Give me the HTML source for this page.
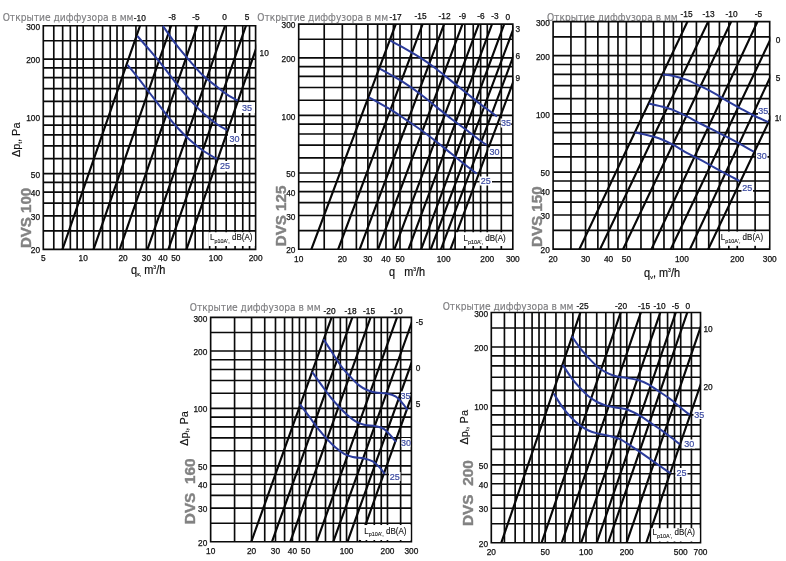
<!DOCTYPE html>
<html><head><meta charset="utf-8"><title>DVS</title>
<style>
html,body{margin:0;padding:0;background:#fff}
svg{display:block;will-change:transform;opacity:0.999}
.ttl{font-family:"DejaVu Sans Condensed","DejaVu Sans","Liberation Sans",sans-serif;font-size:10.8px;fill:#7e7e80;stroke:#7e7e80;stroke-width:0.15px}
.ax{font-family:"Liberation Sans",sans-serif;font-size:8.3px;fill:#111;stroke:#111;stroke-width:0.25px}
.bl{font-family:"Liberation Sans",sans-serif;font-size:9px;fill:#3a49a0;stroke:#3a49a0;stroke-width:0.2px;text-anchor:middle}
.lp{font-family:"Liberation Sans",sans-serif;font-size:8.3px;fill:#111;stroke:#111;stroke-width:0.12px}
.xl{font-family:"Liberation Sans",sans-serif;font-size:12px;fill:#111;stroke:#111;stroke-width:0.2px}
.dvs{font-family:"Liberation Sans",sans-serif;font-weight:bold;font-size:15.3px;fill:#828282;stroke:#828282;stroke-width:0.4px}
.yl{font-family:"Liberation Sans",sans-serif;font-size:11.2px;fill:#111;stroke:#111;stroke-width:0.15px}
</style></head><body>
<svg width="786" height="561" viewBox="0 0 786 561">
<rect width="786" height="561" fill="#fff"/>
<g>
<text class="ttl" textLength="130.8" lengthAdjust="spacingAndGlyphs" x="2.7" y="20.9">Открытие диффузора в мм</text>
<path d="M43.3 24.88 V250.12M53.79 24.88 V250.12M62.66 24.88 V250.12M70.35 24.88 V250.12M77.13 24.88 V250.12M83.19 24.88 V250.12M93.68 24.88 V250.12M102.56 24.88 V250.12M110.24 24.88 V250.12M117.02 24.88 V250.12M123.08 24.88 V250.12M135.93 24.88 V250.12M146.42 24.88 V250.12M155.29 24.88 V250.12M162.97 24.88 V250.12M169.75 24.88 V250.12M175.82 24.88 V250.12M186.31 24.88 V250.12M195.18 24.88 V250.12M202.87 24.88 V250.12M209.64 24.88 V250.12M215.71 24.88 V250.12M226.2 24.88 V250.12M235.07 24.88 V250.12M242.76 24.88 V250.12M249.54 24.88 V250.12M255.6 24.88 V250.12M42.47 249.3 H256.43M42.47 230.88 H256.43M42.47 215.82 H256.43M42.47 203.09 H256.43M42.47 192.07 H256.43M42.47 182.34 H256.43M42.47 173.64 H256.43M42.47 158.59 H256.43M42.47 145.86 H256.43M42.47 134.84 H256.43M42.47 125.11 H256.43M42.47 116.41 H256.43M42.47 101.36 H256.43M42.47 88.63 H256.43M42.47 77.6 H256.43M42.47 67.88 H256.43M42.47 59.18 H256.43M42.47 40.75 H256.43M42.47 25.7 H256.43" stroke="#0a0a0a" stroke-width="1.65" fill="none"/>
<clipPath id="cp0"><rect x="43.3" y="25.7" width="212.9" height="223.6"/></clipPath>
<path clip-path="url(#cp0)" d="M61.46 252.3 L141.08 22.7M92.56 252.3 L172.18 22.7M118.66 252.3 L198.28 22.7M146.46 252.3 L226.08 22.7M167.36 252.3 L246.98 22.7M185.46 252.3 L265.08 22.7" stroke="#080808" stroke-width="2.15" fill="none"/>
<path d="M162.9 25.9 C165.22 29.15 172.25 39.48 176.8 45.4 C181.35 51.32 185.73 56.28 190.2 61.4 C194.67 66.52 199.13 71.87 203.6 76.1 C208.07 80.33 213 83.67 217 86.8 C221 89.93 224.13 92.58 227.6 94.9 C231.07 97.22 236.1 99.73 237.8 100.7" stroke="#2b3b9b" stroke-width="2.0" fill="none"/>
<path d="M137.3 36 C139.43 38.45 145.73 45.57 150.1 50.7 C154.47 55.83 159.05 61.22 163.5 66.8 C167.95 72.38 172.35 78.63 176.8 84.2 C181.25 89.77 185.73 95.3 190.2 100.2 C194.67 105.1 199.13 109.58 203.6 113.6 C208.07 117.62 213.08 121.53 217 124.3 C220.92 127.07 225.42 129.22 227.1 130.2" stroke="#2b3b9b" stroke-width="2.0" fill="none"/>
<path d="M127.4 64.9 C128.95 66.77 132.92 71.33 136.7 76.1 C140.48 80.87 145.63 87.7 150.1 93.5 C154.57 99.3 159.05 105.32 163.5 110.9 C167.95 116.48 172.35 122.1 176.8 127 C181.25 131.9 185.73 136.3 190.2 140.3 C194.67 144.3 199.13 147.88 203.6 151 C208.07 154.12 214.77 157.67 217 159" stroke="#2b3b9b" stroke-width="2.0" fill="none"/>
<rect x="239" y="102.2" width="16" height="10.8" fill="#fff"/>
<text class="bl" x="247" y="110.7">35</text>
<rect x="228" y="133" width="13" height="11" fill="#fff"/>
<text class="bl" x="234.5" y="141.6">30</text>
<rect x="218.5" y="161" width="13" height="10.5" fill="#fff"/>
<text class="bl" x="225" y="169.35">25</text>
<rect x="208.72" y="232.22" width="46.05" height="13.77" fill="#fff"/>
<text class="lp" textLength="42.3" lengthAdjust="spacingAndGlyphs" x="210.1" y="240.2">L<tspan font-size="5.6" dy="2.6">p10A',</tspan><tspan dy="-2.6"> dB(A)</tspan></text>
<text class="ax" text-anchor="end" x="40" y="253.4">20</text>
<text class="ax" text-anchor="end" x="40" y="219.92">30</text>
<text class="ax" text-anchor="end" x="40" y="196.17">40</text>
<text class="ax" text-anchor="end" x="40" y="177.74">50</text>
<text class="ax" text-anchor="end" x="40" y="120.51">100</text>
<text class="ax" text-anchor="end" x="40" y="63.28">200</text>
<text class="ax" text-anchor="end" x="40" y="29.8">300</text>
<text class="ax" text-anchor="middle" x="43.3" y="260.8">5</text>
<text class="ax" text-anchor="middle" x="83.19" y="260.8">10</text>
<text class="ax" text-anchor="middle" x="123.08" y="260.8">20</text>
<text class="ax" text-anchor="middle" x="146.42" y="260.8">30</text>
<text class="ax" text-anchor="middle" x="162.97" y="260.8">40</text>
<text class="ax" text-anchor="middle" x="175.82" y="260.8">50</text>
<text class="ax" text-anchor="middle" x="215.71" y="260.8">100</text>
<text class="ax" text-anchor="middle" x="255.6" y="260.8">200</text>
<text class="ax" text-anchor="middle" x="139.8" y="20.6">-10</text>
<text class="ax" text-anchor="middle" x="172.2" y="20.2">-8</text>
<text class="ax" text-anchor="middle" x="196" y="20.2">-5</text>
<text class="ax" text-anchor="middle" x="224.5" y="20.2">0</text>
<text class="ax" text-anchor="middle" x="247" y="20.2">5</text>
<text class="ax" x="259.6" y="55.5">10</text>
<text class="xl" textLength="34.2" lengthAdjust="spacingAndGlyphs" x="131.1" y="274.3">q<tspan font-size='6' dy='2'>к,</tspan><tspan dy='-2'> m</tspan><tspan font-size='5.5' dy='-5'>3</tspan><tspan dy='5'>/h</tspan></text>
<text class="yl" textLength="34.5" lengthAdjust="spacingAndGlyphs" transform="translate(19.8 157) rotate(-90)">Δp<tspan font-size="6" dy="1.8">t</tspan><tspan dy="-1.8">, Pa</tspan></text>
<text class="dvs" textLength="60.3" lengthAdjust="spacingAndGlyphs" transform="translate(31.4 248.1) rotate(-90)" xml:space="preserve">DVS 100</text>
</g>
<g>
<text class="ttl" textLength="130.8" lengthAdjust="spacingAndGlyphs" x="257.3" y="20.9">Открытие диффузора в мм</text>
<path d="M298.7 23.28 V250.02M324.22 23.28 V250.02M342.33 23.28 V250.02M356.38 23.28 V250.02M367.86 23.28 V250.02M377.56 23.28 V250.02M385.97 23.28 V250.02M393.38 23.28 V250.02M400.01 23.28 V250.02M411.49 23.28 V250.02M421.19 23.28 V250.02M429.6 23.28 V250.02M437.01 23.28 V250.02M443.64 23.28 V250.02M455.12 23.28 V250.02M464.82 23.28 V250.02M473.23 23.28 V250.02M480.64 23.28 V250.02M487.28 23.28 V250.02M501.32 23.28 V250.02M512.8 23.28 V250.02M297.88 249.2 H513.62M297.88 230.65 H513.62M297.88 215.5 H513.62M297.88 202.68 H513.62M297.88 191.58 H513.62M297.88 181.79 H513.62M297.88 173.04 H513.62M297.88 157.88 H513.62M297.88 145.07 H513.62M297.88 133.97 H513.62M297.88 124.18 H513.62M297.88 115.42 H513.62M297.88 100.26 H513.62M297.88 87.45 H513.62M297.88 76.35 H513.62M297.88 66.56 H513.62M297.88 57.8 H513.62M297.88 39.26 H513.62M297.88 24.1 H513.62" stroke="#0a0a0a" stroke-width="1.65" fill="none"/>
<clipPath id="cp1"><rect x="298.7" y="24.1" width="214.7" height="225.1"/></clipPath>
<path clip-path="url(#cp1)" d="M310.27 252.2 L396.94 21.1M337.07 252.2 L423.74 21.1M358.57 252.2 L445.24 21.1M376.98 252.2 L463.64 21.1M393.27 252.2 L479.94 21.1M407.39 252.2 L493.13 21.1M420.09 252.2 L505.3 21.1M429.68 252.2 L516.34 21.1M439.88 252.2 L526.54 21.1M449.38 252.2 L536.04 21.1" stroke="#080808" stroke-width="2.15" fill="none"/>
<path d="M390.3 40.6 C392.83 41.97 400.45 45.92 405.5 48.8 C410.55 51.68 415.55 54.62 420.6 57.9 C425.65 61.18 430.75 64.72 435.8 68.5 C440.85 72.28 445.85 76.57 450.9 80.6 C455.95 84.63 461.05 88.67 466.1 92.7 C471.15 96.73 476.05 100.85 481.2 104.8 C486.35 108.75 494.37 114.47 497 116.4" stroke="#2b3b9b" stroke-width="2.0" fill="none"/>
<path d="M379.7 68.5 C381.47 69.5 386 71.98 390.3 74.5 C394.6 77.02 400.45 80.32 405.5 83.6 C410.55 86.88 415.55 90.4 420.6 94.2 C425.65 98 430.75 102.35 435.8 106.4 C440.85 110.45 445.85 114.62 450.9 118.5 C455.95 122.38 461.05 125.92 466.1 129.7 C471.15 133.48 477.77 138.68 481.2 141.2 C484.63 143.72 485.78 144.2 486.7 144.8" stroke="#2b3b9b" stroke-width="2.0" fill="none"/>
<path d="M369.1 97.3 C372.63 99.32 384.23 105.72 390.3 109.4 C396.37 113.08 400.45 116.02 405.5 119.4 C410.55 122.78 415.55 126.07 420.6 129.7 C425.65 133.33 430.75 137.27 435.8 141.2 C440.85 145.13 445.85 149.25 450.9 153.3 C455.95 157.35 461.8 162.12 466.1 165.5 C470.4 168.88 474.93 172.25 476.7 173.6" stroke="#2b3b9b" stroke-width="2.0" fill="none"/>
<rect x="500.8" y="118.5" width="10.4" height="9" fill="#fff"/>
<text class="bl" x="506" y="126.1">35</text>
<rect x="488.5" y="147.5" width="12" height="9.5" fill="#fff"/>
<text class="bl" x="494.5" y="155.35">30</text>
<rect x="479.5" y="176.5" width="12.5" height="9" fill="#fff"/>
<text class="bl" x="485.75" y="184.1">25</text>
<rect x="456.02" y="232.22" width="55.95" height="13.77" fill="#fff"/>
<text class="lp" textLength="42.3" lengthAdjust="spacingAndGlyphs" x="463.5" y="241.1">L<tspan font-size="5.6" dy="2.6">p10A',</tspan><tspan dy="-2.6"> dB(A)</tspan></text>
<text class="ax" text-anchor="end" x="295.4" y="253.3">20</text>
<text class="ax" text-anchor="end" x="295.4" y="219.6">30</text>
<text class="ax" text-anchor="end" x="295.4" y="195.68">40</text>
<text class="ax" text-anchor="end" x="295.4" y="177.14">50</text>
<text class="ax" text-anchor="end" x="295.4" y="119.52">100</text>
<text class="ax" text-anchor="end" x="295.4" y="61.9">200</text>
<text class="ax" text-anchor="end" x="295.4" y="28.2">300</text>
<text class="ax" text-anchor="middle" x="298.7" y="261.8">10</text>
<text class="ax" text-anchor="middle" x="342.33" y="261.8">20</text>
<text class="ax" text-anchor="middle" x="367.86" y="261.8">30</text>
<text class="ax" text-anchor="middle" x="385.97" y="261.8">40</text>
<text class="ax" text-anchor="middle" x="400.01" y="261.8">50</text>
<text class="ax" text-anchor="middle" x="443.64" y="261.8">100</text>
<text class="ax" text-anchor="middle" x="487.28" y="261.8">200</text>
<text class="ax" text-anchor="middle" x="512.8" y="261.8">300</text>
<text class="ax" text-anchor="middle" x="395.5" y="20.2">-17</text>
<text class="ax" text-anchor="middle" x="420.6" y="18.8">-15</text>
<text class="ax" text-anchor="middle" x="444.5" y="18.8">-12</text>
<text class="ax" text-anchor="middle" x="462.5" y="18.8">-9</text>
<text class="ax" text-anchor="middle" x="481" y="18.8">-6</text>
<text class="ax" text-anchor="middle" x="495" y="18.8">-3</text>
<text class="ax" text-anchor="middle" x="507.7" y="20">0</text>
<text class="ax" x="515.6" y="32">3</text>
<text class="ax" x="515.6" y="58.5">6</text>
<text class="ax" x="515.6" y="80.5">9</text>
<text class="xl" textLength="36.1" lengthAdjust="spacingAndGlyphs" x="389.1" y="276.3">q&#160;&#160;&#160;m<tspan font-size='5.5' dy='-5'>3</tspan><tspan dy='5'>/h</tspan></text>
<text class="dvs" textLength="60.5" lengthAdjust="spacingAndGlyphs" transform="translate(286.2 246.2) rotate(-90)" xml:space="preserve">DVS 125</text>
</g>
<g>
<clipPath id="tc2"><rect x="0" y="6.4" width="786" height="14.5"/></clipPath>
<text clip-path="url(#tc2)" class="ttl" textLength="130.8" lengthAdjust="spacingAndGlyphs" x="546.9" y="21.4">Открытие диффузора в мм</text>
<path d="M553.1 20.78 V249.92M570.95 20.78 V249.92M585.53 20.78 V249.92M597.86 20.78 V249.92M608.54 20.78 V249.92M617.96 20.78 V249.92M626.39 20.78 V249.92M640.97 20.78 V249.92M653.3 20.78 V249.92M663.98 20.78 V249.92M673.4 20.78 V249.92M681.83 20.78 V249.92M696.41 20.78 V249.92M708.74 20.78 V249.92M719.42 20.78 V249.92M728.84 20.78 V249.92M737.27 20.78 V249.92M755.12 20.78 V249.92M769.7 20.78 V249.92M552.27 249.1 H770.53M552.27 230.35 H770.53M552.27 215.04 H770.53M552.27 202.09 H770.53M552.27 190.87 H770.53M552.27 180.97 H770.53M552.27 172.12 H770.53M552.27 156.81 H770.53M552.27 143.86 H770.53M552.27 132.64 H770.53M552.27 122.74 H770.53M552.27 113.89 H770.53M552.27 98.58 H770.53M552.27 85.63 H770.53M552.27 74.41 H770.53M552.27 64.51 H770.53M552.27 55.66 H770.53M552.27 36.92 H770.53M552.27 21.6 H770.53" stroke="#0a0a0a" stroke-width="1.65" fill="none"/>
<clipPath id="cp2"><rect x="553.1" y="21.6" width="217.2" height="227.5"/></clipPath>
<path clip-path="url(#cp2)" d="M577.98 252.1 L688.89 18.6M598.68 252.1 L709.59 18.6M621.68 252.1 L732.59 18.6M650.1 252.1 L758.91 18.6M669.38 252.1 L780.29 18.6M688.6 252.1 L797.55 18.6M706.88 252.1 L817.79 18.6" stroke="#080808" stroke-width="2.15" fill="none"/>
<path d="M662.8 74.6 C664.58 74.82 669.5 75.02 673.5 75.9 C677.5 76.78 682.35 78.2 686.8 79.9 C691.25 81.6 695.73 83.95 700.2 86.1 C704.67 88.25 709.15 90.35 713.6 92.8 C718.05 95.25 722.45 98.22 726.9 100.8 C731.35 103.38 735.83 105.85 740.3 108.3 C744.77 110.75 749.02 113.18 753.7 115.5 C758.38 117.82 765.95 121.08 768.4 122.2" stroke="#2b3b9b" stroke-width="2.0" fill="none"/>
<path d="M648.9 103.5 C650.77 103.93 656 105 660.1 106.1 C664.2 107.2 669.05 108.4 673.5 110.1 C677.95 111.8 682.35 114.07 686.8 116.3 C691.25 118.53 695.73 121.18 700.2 123.5 C704.67 125.82 709.15 127.97 713.6 130.2 C718.05 132.43 722.45 134.58 726.9 136.9 C731.35 139.22 735.83 141.65 740.3 144.1 C744.77 146.55 751.47 150.35 753.7 151.6" stroke="#2b3b9b" stroke-width="2.0" fill="none"/>
<path d="M634.7 132.3 C636.7 132.75 642.47 133.93 646.7 135 C650.93 136.07 655.63 137.05 660.1 138.7 C664.57 140.35 669.05 142.53 673.5 144.9 C677.95 147.27 682.35 150.45 686.8 152.9 C691.25 155.35 695.73 157.23 700.2 159.6 C704.67 161.97 709.15 164.65 713.6 167.1 C718.05 169.55 722.58 171.98 726.9 174.3 C731.22 176.62 737.4 179.88 739.5 181" stroke="#2b3b9b" stroke-width="2.0" fill="none"/>
<rect x="758" y="105.8" width="10.4" height="10.2" fill="#fff"/>
<text class="bl" x="763.2" y="114">35</text>
<rect x="756" y="152" width="11.5" height="8.5" fill="#fff"/>
<text class="bl" x="761.75" y="159.35">30</text>
<rect x="741.5" y="183.5" width="11.5" height="8.5" fill="#fff"/>
<text class="bl" x="747.25" y="190.85">25</text>
<rect x="720.03" y="231.62" width="48.85" height="14.18" fill="#fff"/>
<text class="lp" textLength="42.3" lengthAdjust="spacingAndGlyphs" x="720.8" y="240">L<tspan font-size="5.6" dy="2.6">p10A',</tspan><tspan dy="-2.6"> dB(A)</tspan></text>
<text class="ax" text-anchor="end" x="549.8" y="253.2">20</text>
<text class="ax" text-anchor="end" x="549.8" y="219.14">30</text>
<text class="ax" text-anchor="end" x="549.8" y="194.97">40</text>
<text class="ax" text-anchor="end" x="549.8" y="176.22">50</text>
<text class="ax" text-anchor="end" x="549.8" y="117.99">100</text>
<text class="ax" text-anchor="end" x="549.8" y="59.76">200</text>
<text class="ax" text-anchor="end" x="549.8" y="25.7">300</text>
<text class="ax" text-anchor="middle" x="553.1" y="261.9">20</text>
<text class="ax" text-anchor="middle" x="585.53" y="261.9">30</text>
<text class="ax" text-anchor="middle" x="608.54" y="261.9">40</text>
<text class="ax" text-anchor="middle" x="626.39" y="261.9">50</text>
<text class="ax" text-anchor="middle" x="681.83" y="261.9">100</text>
<text class="ax" text-anchor="middle" x="737.27" y="261.9">200</text>
<text class="ax" text-anchor="middle" x="769.7" y="261.9">300</text>
<text class="ax" text-anchor="middle" x="686.5" y="17.2">-15</text>
<text class="ax" text-anchor="middle" x="708.5" y="17.2">-13</text>
<text class="ax" text-anchor="middle" x="731.5" y="17.2">-10</text>
<text class="ax" text-anchor="middle" x="758.5" y="17.2">-5</text>
<text class="ax" x="775.7" y="43">0</text>
<text class="ax" x="775.7" y="81">5</text>
<text class="ax" x="774.7" y="121">10</text>
<text class="xl" textLength="35.9" lengthAdjust="spacingAndGlyphs" x="644.1" y="276.9">q<tspan font-size='6' dy='2'>v</tspan><tspan dy='-2'>, m</tspan><tspan font-size='5.5' dy='-5'>3</tspan><tspan dy='5'>/h</tspan></text>
<text class="dvs" textLength="60.6" lengthAdjust="spacingAndGlyphs" transform="translate(541.8 247) rotate(-90)" xml:space="preserve">DVS 150</text>
</g>
<g>
<text class="ttl" textLength="130.8" lengthAdjust="spacingAndGlyphs" x="189.8" y="311.3">Открытие диффузора в мм</text>
<path d="M210.65 316.57 V542.53M234.58 316.57 V542.53M251.56 316.57 V542.53M264.73 316.57 V542.53M275.49 316.57 V542.53M284.59 316.57 V542.53M292.47 316.57 V542.53M299.43 316.57 V542.53M305.64 316.57 V542.53M316.41 316.57 V542.53M325.5 316.57 V542.53M333.39 316.57 V542.53M340.34 316.57 V542.53M346.56 316.57 V542.53M357.32 316.57 V542.53M366.42 316.57 V542.53M374.3 316.57 V542.53M381.25 316.57 V542.53M387.47 316.57 V542.53M400.64 316.57 V542.53M411.4 316.57 V542.53M209.83 541.7 H412.22M209.83 523.22 H412.22M209.83 508.12 H412.22M209.83 495.35 H412.22M209.83 484.29 H412.22M209.83 474.53 H412.22M209.83 465.81 H412.22M209.83 450.71 H412.22M209.83 437.94 H412.22M209.83 426.88 H412.22M209.83 417.12 H412.22M209.83 408.39 H412.22M209.83 393.29 H412.22M209.83 380.53 H412.22M209.83 369.47 H412.22M209.83 359.71 H412.22M209.83 350.98 H412.22M209.83 332.5 H412.22M209.83 317.4 H412.22" stroke="#0a0a0a" stroke-width="1.65" fill="none"/>
<clipPath id="cp3"><rect x="210.65" y="317.4" width="201.35" height="224.3"/></clipPath>
<path clip-path="url(#cp3)" d="M250.23 544.7 L332.67 314.4M270.93 544.7 L353.37 314.4M289.23 544.7 L371.67 314.4M315.63 544.7 L398.07 314.4M332.23 544.7 L414.67 314.4M346.43 544.7 L428.87 314.4M358.43 544.7 L440.87 314.4" stroke="#080808" stroke-width="2.15" fill="none"/>
<path d="M323.6 339.3 C325.13 341.67 329.85 349 332.8 353.5 C335.75 358 338.45 362.5 341.3 366.3 C344.15 370.1 347.05 373.2 349.9 376.3 C352.75 379.4 355.55 382.62 358.4 384.9 C361.25 387.18 364.15 388.72 367 390 C369.85 391.28 372.18 392.03 375.5 392.6 C378.82 393.17 383.57 392.78 386.9 393.4 C390.23 394.02 392.88 394.63 395.5 396.3 C398.12 397.97 400.6 401.12 402.6 403.4 C404.6 405.68 406.68 408.9 407.5 410" stroke="#2b3b9b" stroke-width="2.0" fill="none"/>
<path d="M312.2 372 C313.73 374.15 318.45 380.85 321.4 384.9 C324.35 388.95 327.05 392.73 329.9 396.3 C332.75 399.87 335.65 403.22 338.5 406.3 C341.35 409.38 344.15 412.28 347 414.8 C349.85 417.32 352.75 419.73 355.6 421.4 C358.45 423.07 360.78 424 364.1 424.8 C367.42 425.6 372.17 425.48 375.5 426.2 C378.83 426.92 381.48 427.43 384.1 429.1 C386.72 430.77 389.2 434.07 391.2 436.2 C393.2 438.33 395.28 440.95 396.1 441.9" stroke="#2b3b9b" stroke-width="2.0" fill="none"/>
<path d="M300 404.3 C301.67 406.53 306.92 413.57 310 417.7 C313.08 421.83 315.65 425.53 318.5 429.1 C321.35 432.67 324.25 436.02 327.1 439.1 C329.95 442.18 332.75 445.13 335.6 447.6 C338.45 450.07 341.35 452.33 344.2 453.9 C347.05 455.47 349.38 456.25 352.7 457 C356.02 457.75 360.77 457.68 364.1 458.4 C367.43 459.12 370.08 459.77 372.7 461.3 C375.32 462.83 377.8 465.52 379.8 467.6 C381.8 469.68 383.88 472.77 384.7 473.8" stroke="#2b3b9b" stroke-width="2.0" fill="none"/>
<rect x="401" y="391.5" width="9" height="8" fill="#fff"/>
<text class="bl" x="405.5" y="398.6">35</text>
<rect x="401.5" y="438" width="8.9" height="9" fill="#fff"/>
<text class="bl" x="405.95" y="445.6">30</text>
<rect x="389" y="472" width="11.5" height="9" fill="#fff"/>
<text class="bl" x="394.75" y="479.6">25</text>
<rect x="359.12" y="525.03" width="51.45" height="14.97" fill="#fff"/>
<text class="lp" textLength="42.3" lengthAdjust="spacingAndGlyphs" x="364.2" y="533.7">L<tspan font-size="5.6" dy="2.6">p10A',</tspan><tspan dy="-2.6"> dB(A)</tspan></text>
<text class="ax" text-anchor="end" x="207.35" y="545.8">20</text>
<text class="ax" text-anchor="end" x="207.35" y="512.22">30</text>
<text class="ax" text-anchor="end" x="207.35" y="488.39">40</text>
<text class="ax" text-anchor="end" x="207.35" y="469.91">50</text>
<text class="ax" text-anchor="end" x="207.35" y="412.49">100</text>
<text class="ax" text-anchor="end" x="207.35" y="355.08">200</text>
<text class="ax" text-anchor="end" x="207.35" y="321.5">300</text>
<text class="ax" text-anchor="middle" x="210.65" y="554">10</text>
<text class="ax" text-anchor="middle" x="251.56" y="554">20</text>
<text class="ax" text-anchor="middle" x="275.49" y="554">30</text>
<text class="ax" text-anchor="middle" x="292.47" y="554">40</text>
<text class="ax" text-anchor="middle" x="305.64" y="554">50</text>
<text class="ax" text-anchor="middle" x="346.56" y="554">100</text>
<text class="ax" text-anchor="middle" x="387.47" y="554">200</text>
<text class="ax" text-anchor="middle" x="411.4" y="554">300</text>
<text class="ax" text-anchor="middle" x="329.5" y="314.2">-20</text>
<text class="ax" text-anchor="middle" x="350.5" y="314.2">-18</text>
<text class="ax" text-anchor="middle" x="369" y="314.2">-15</text>
<text class="ax" text-anchor="middle" x="396.5" y="314.2">-10</text>
<text class="ax" x="415.8" y="324.5">-5</text>
<text class="ax" x="415.8" y="370.5">0</text>
<text class="ax" x="415.8" y="406.5">5</text>
<text class="yl" textLength="34.5" lengthAdjust="spacingAndGlyphs" transform="translate(187.6 445.7) rotate(-90)">Δp<tspan font-size="6" dy="1.8">t</tspan><tspan dy="-1.8">, Pa</tspan></text>
<text class="dvs" textLength="65.7" lengthAdjust="spacingAndGlyphs" transform="translate(195.1 524.2) rotate(-90)" xml:space="preserve">DVS  160</text>
</g>
<g>
<clipPath id="tc4"><rect x="0" y="295.2" width="786" height="16.2"/></clipPath>
<text clip-path="url(#tc4)" class="ttl" textLength="130.8" lengthAdjust="spacingAndGlyphs" x="442.7" y="310.2">Открытие диффузора в мм</text>
<path d="M491.3 311.68 V543.53M504.43 311.68 V543.53M515.16 311.68 V543.53M524.23 311.68 V543.53M532.09 311.68 V543.53M539.02 311.68 V543.53M545.22 311.68 V543.53M555.94 311.68 V543.53M565.01 311.68 V543.53M572.87 311.68 V543.53M579.8 311.68 V543.53M586 311.68 V543.53M596.73 311.68 V543.53M605.8 311.68 V543.53M613.66 311.68 V543.53M620.59 311.68 V543.53M626.79 311.68 V543.53M639.92 311.68 V543.53M650.64 311.68 V543.53M659.71 311.68 V543.53M667.57 311.68 V543.53M674.5 311.68 V543.53M680.7 311.68 V543.53M691.43 311.68 V543.53M700.5 311.68 V543.53M490.48 542.7 H701.33M490.48 523.73 H701.33M490.48 508.23 H701.33M490.48 495.13 H701.33M490.48 483.78 H701.33M490.48 473.77 H701.33M490.48 464.81 H701.33M490.48 449.31 H701.33M490.48 436.21 H701.33M490.48 424.86 H701.33M490.48 414.84 H701.33M490.48 405.89 H701.33M490.48 390.39 H701.33M490.48 377.29 H701.33M490.48 365.94 H701.33M490.48 355.92 H701.33M490.48 346.97 H701.33M490.48 328 H701.33M490.48 312.5 H701.33" stroke="#0a0a0a" stroke-width="1.65" fill="none"/>
<clipPath id="cp4"><rect x="491.3" y="312.5" width="209.8" height="230.2"/></clipPath>
<path clip-path="url(#cp4)" d="M500.27 545.7 L581.4 309.5M540.57 545.7 L621.7 309.5M560.77 545.7 L641.9 309.5M580.17 545.7 L661.3 309.5M595.67 545.7 L676.8 309.5M607.17 545.7 L688.3 309.5M625.57 545.7 L706.7 309.5M645.27 545.7 L726.4 309.5" stroke="#080808" stroke-width="2.15" fill="none"/>
<path d="M571.9 336.4 C573.23 338.3 577.13 344.23 579.9 347.8 C582.67 351.37 585.63 354.7 588.5 357.8 C591.37 360.9 594.25 364.02 597.1 366.4 C599.95 368.78 602.75 370.53 605.6 372.1 C608.45 373.67 610.87 374.85 614.2 375.8 C617.53 376.75 621.8 377.13 625.6 377.8 C629.4 378.47 633.2 378.72 637 379.8 C640.8 380.88 644.6 382.27 648.4 384.3 C652.2 386.33 656 389.43 659.8 392 C663.6 394.57 667.4 396.83 671.2 399.7 C675 402.57 679.5 406.67 682.6 409.2 C685.7 411.73 688.6 413.95 689.8 414.9" stroke="#2b3b9b" stroke-width="2.0" fill="none"/>
<path d="M562.8 364.9 C564.23 367.05 568.55 373.98 571.4 377.8 C574.25 381.62 577.05 384.72 579.9 387.8 C582.75 390.88 585.63 393.93 588.5 396.3 C591.37 398.67 594.25 400.48 597.1 402 C599.95 403.52 602.28 404.45 605.6 405.4 C608.92 406.35 613.2 406.93 617 407.7 C620.8 408.47 624.6 408.67 628.4 410 C632.2 411.33 635.98 413.47 639.8 415.7 C643.62 417.93 647.48 420.83 651.3 423.4 C655.12 425.97 658.9 428.38 662.7 431.1 C666.5 433.82 671.25 437.52 674.1 439.7 C676.95 441.88 678.85 443.45 679.8 444.2" stroke="#2b3b9b" stroke-width="2.0" fill="none"/>
<path d="M553.7 393.5 C555.22 395.87 559.85 403.67 562.8 407.7 C565.75 411.73 568.55 414.75 571.4 417.7 C574.25 420.65 577.05 423.27 579.9 425.4 C582.75 427.53 585.63 429.17 588.5 430.5 C591.37 431.83 593.77 432.53 597.1 433.4 C600.43 434.27 604.7 434.75 608.5 435.7 C612.3 436.65 616.1 437.35 619.9 439.1 C623.7 440.85 627.5 443.73 631.3 446.2 C635.1 448.67 638.9 451.28 642.7 453.9 C646.5 456.52 650.3 459.23 654.1 461.9 C657.9 464.57 662.75 468 665.5 469.9 C668.25 471.8 669.75 472.73 670.6 473.3" stroke="#2b3b9b" stroke-width="2.0" fill="none"/>
<rect x="693.5" y="410" width="11.5" height="9" fill="#fff"/>
<text class="bl" x="699.25" y="417.6">35</text>
<rect x="683.5" y="439.5" width="11.5" height="9" fill="#fff"/>
<text class="bl" x="689.25" y="447.1">30</text>
<rect x="675.5" y="468" width="12" height="9" fill="#fff"/>
<text class="bl" x="681.5" y="475.6">25</text>
<rect x="651.23" y="528.23" width="48.45" height="13.28" fill="#fff"/>
<text class="lp" textLength="42.3" lengthAdjust="spacingAndGlyphs" x="652.6" y="535">L<tspan font-size="5.6" dy="2.6">p10A',</tspan><tspan dy="-2.6"> dB(A)</tspan></text>
<text class="ax" text-anchor="end" x="488" y="546.8">20</text>
<text class="ax" text-anchor="end" x="488" y="512.33">30</text>
<text class="ax" text-anchor="end" x="488" y="487.88">40</text>
<text class="ax" text-anchor="end" x="488" y="468.91">50</text>
<text class="ax" text-anchor="end" x="488" y="409.99">100</text>
<text class="ax" text-anchor="end" x="488" y="351.07">200</text>
<text class="ax" text-anchor="end" x="488" y="316.6">300</text>
<text class="ax" text-anchor="middle" x="491.3" y="554.9">20</text>
<text class="ax" text-anchor="middle" x="545.22" y="554.9">50</text>
<text class="ax" text-anchor="middle" x="586" y="554.9">100</text>
<text class="ax" text-anchor="middle" x="626.79" y="554.9">200</text>
<text class="ax" text-anchor="middle" x="680.7" y="554.9">500</text>
<text class="ax" text-anchor="middle" x="700.5" y="554.9">700</text>
<text class="ax" text-anchor="middle" x="582.5" y="309.2">-25</text>
<text class="ax" text-anchor="middle" x="621" y="309.2">-20</text>
<text class="ax" text-anchor="middle" x="644" y="309.2">-15</text>
<text class="ax" text-anchor="middle" x="659.5" y="309.2">-10</text>
<text class="ax" text-anchor="middle" x="675.5" y="309.2">-5</text>
<text class="ax" text-anchor="middle" x="687.8" y="309.2">0</text>
<text class="ax" x="703.5" y="332">10</text>
<text class="ax" x="703.5" y="389.5">20</text>
<text class="yl" textLength="34.5" lengthAdjust="spacingAndGlyphs" transform="translate(467.5 444.5) rotate(-90)">Δp<tspan font-size="6" dy="1.8">t</tspan><tspan dy="-1.8">, Pa</tspan></text>
<text class="dvs" textLength="65.8" lengthAdjust="spacingAndGlyphs" transform="translate(473.2 526) rotate(-90)" xml:space="preserve">DVS  200</text>
</g>
<rect x="781" y="100" width="5" height="40" fill="#fff"/>
</svg>
</body></html>
